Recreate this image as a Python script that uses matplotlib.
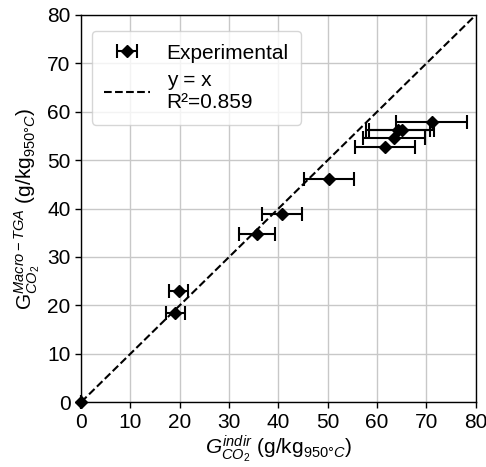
import matplotlib.pyplot as plt

plt.rcParams['font.family'] = ['Liberation Sans', 'DejaVu Sans']
plt.rcParams['mathtext.fontset'] = 'custom'
plt.rcParams['mathtext.rm'] = 'Liberation Sans'
plt.rcParams['mathtext.it'] = 'Liberation Sans:italic'

# Indirect vs. macro-TGA CO2 yields
g_indir = [0.0, 19.1, 19.8, 35.6, 40.7, 50.3, 61.6, 63.4, 64.2, 65.0, 71.1]
g_macro = [0.0, 18.4, 22.9, 34.7, 38.8, 46.0, 52.7, 54.6, 56.3, 56.2, 57.9]
g_indir_err = [0.0, 2.0, 1.95, 3.7, 4.05, 5.05, 6.15, 6.35, 6.5, 6.6, 7.2]
r2 = 0.859
ticks = [0, 10, 20, 30, 40, 50, 60, 70, 80]

fig = plt.figure(figsize=(4.86, 4.67), dpi=100)
ax = fig.add_axes([0.167, 0.139, 0.812, 0.829])

ax.grid(True, color='#c8c8c8', linewidth=1.0, zorder=0)
ax.plot([0, 80], [0, 80], 'k--', linewidth=1.5, label='y = x\nR²=%.3f' % r2, zorder=2)
ax.errorbar(g_indir, g_macro, xerr=g_indir_err, fmt='D', color='k', markersize=6,
            ecolor='k', elinewidth=1.5, capsize=5, capthick=1.5,
            label='Experimental', zorder=3, clip_on=False)

ax.set_xlim(0, 80)
ax.set_ylim(0, 80)
ax.set_xticks(ticks)
ax.set_yticks(ticks)
ax.tick_params(labelsize=15, width=1, length=4)
for s in ax.spines.values():
    s.set_color('k')
    s.set_linewidth(1.0)

ax.set_xlabel(r'$G_{CO_2}^{indir}$ (g/kg$_{950°C}$)', fontsize=15, labelpad=2)
ax.set_ylabel(r'$\mathrm{G}_{CO_2}^{Macro-TGA}$ (g/kg$_{950°C}$)', fontsize=15, labelpad=4)

handles, labels = ax.get_legend_handles_labels()
ax.legend(handles[::-1], labels[::-1], loc='upper left', fontsize=15,
          borderpad=0.6, handlelength=2.2, labelspacing=0.4,
          bbox_to_anchor=(0.0, 0.985))

fig.savefig('out.png', dpi=100)
